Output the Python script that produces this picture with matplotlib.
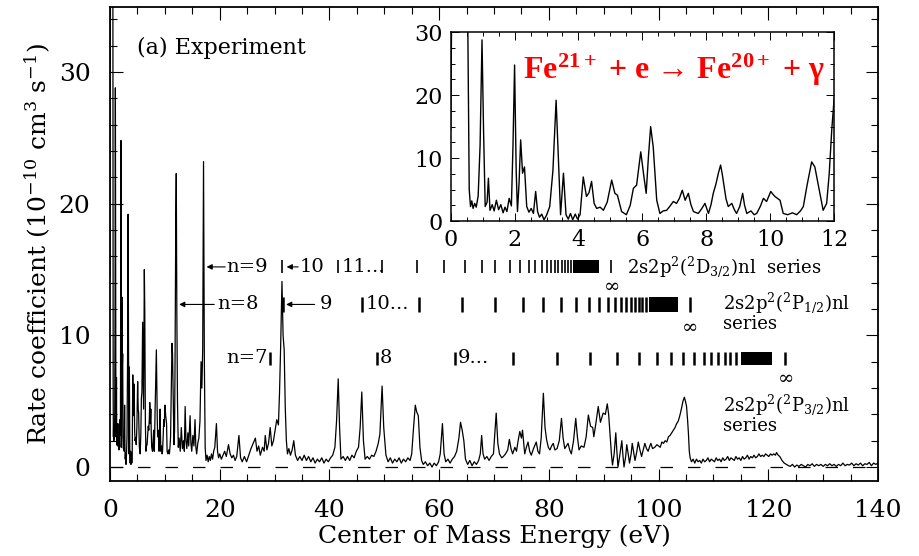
import matplotlib
matplotlib.use("Agg")
import matplotlib.pyplot as plt
import numpy as np
from matplotlib.ticker import MultipleLocator

# --------------------------------------------------------------------------- #
# Data: (energy eV, rate 1e-10 cm^3/s)
# --------------------------------------------------------------------------- #

spectrum_low = [
    (0.0, 14.5), (0.04, 40), (0.52, 40), (0.58, 5.0), (0.62, 2.3), (0.66, 3.2),
    (0.70, 2.0), (0.75, 2.8), (0.80, 2.2), (0.86, 4.0), (0.92, 12), (0.98, 28.8),
    (1.03, 14), (1.08, 2.3), (1.14, 3.0), (1.18, 6.8), (1.23, 1.7), (1.30, 2.6),
    (1.36, 1.6), (1.43, 3.3), (1.50, 1.8), (1.57, 2.6), (1.64, 1.3), (1.70, 2.2),
    (1.76, 1.5), (1.83, 3.6), (1.90, 2.4), (1.95, 12), (2.00, 24.8), (2.05, 8.0),
    (2.09, 1.5), (2.14, 6.0), (2.19, 12.9), (2.25, 7.6), (2.31, 8.6), (2.38, 2.3),
    (2.45, 1.4), (2.52, 2.0), (2.59, 1.2), (2.66, 4.7), (2.72, 1.5), (2.78, 0.6),
    (2.85, 1.1), (2.92, 0.2), (3.00, 0.9), (3.10, 2.3), (3.20, 8.0), (3.30, 19.2),
    (3.37, 10), (3.44, 1.0), (3.53, 7.6), (3.61, 1.0), (3.68, 0.3), (3.75, 1.2),
    (3.82, 0.2), (3.90, 1.1), (3.97, 0.3), (4.05, 1.0), (4.15, 7.0), (4.25, 3.9),
    (4.33, 4.5), (4.41, 6.3), (4.49, 2.8), (4.57, 2.0), (4.68, 2.2), (4.78, 1.7),
    (4.90, 3.0), (5.04, 6.5), (5.14, 4.4), (5.22, 4.1), (5.35, 1.5), (5.50, 1.0),
    (5.62, 2.5), (5.72, 5.2), (5.82, 5.7), (5.95, 11.0), (6.05, 7.0), (6.12, 4.4),
    (6.19, 10.2), (6.26, 15.0), (6.34, 11.8), (6.45, 3.3), (6.55, 1.2), (6.65, 1.6),
    (6.76, 1.7), (6.87, 2.4), (6.97, 3.1), (7.07, 2.8), (7.16, 3.6), (7.25, 4.9),
    (7.34, 3.3), (7.44, 4.4), (7.52, 2.6), (7.60, 1.5), (7.75, 1.2), (7.85, 1.9),
    (7.96, 2.8), (8.07, 1.2), (8.15, 2.6), (8.22, 4.4), (8.30, 5.8), (8.38, 7.6),
    (8.45, 8.9), (8.50, 7.5), (8.56, 5.5), (8.62, 3.5), (8.69, 2.3), (8.80, 2.8),
    (8.88, 1.8), (8.95, 1.2), (9.05, 2.3), (9.14, 4.4), (9.20, 2.5), (9.27, 1.2),
    (9.40, 1.6), (9.50, 1.0), (9.58, 1.2), (9.70, 2.4), (9.79, 3.6), (9.89, 3.1),
    (10.02, 4.7), (10.08, 4.3), (10.15, 3.9), (10.23, 3.6), (10.31, 3.3), (10.41, 1.2),
    (10.55, 1.0), (10.70, 1.3), (10.83, 1.0), (10.95, 1.6), (11.04, 2.3), (11.15, 5.5),
    (11.30, 9.4), (11.40, 8.6), (11.48, 6.5), (11.56, 4.4), (11.66, 1.7), (11.77, 2.8),
    (11.85, 7.5), (11.93, 14.5), (12.00, 19.2), (12.08, 22.3), (12.18, 12), (12.30, 5.0),
    (12.45, 1.5),
]

spectrum_high = [
    (12.6, 2.2), (12.8, 1.2), (13.0, 3.0), (13.2, 1.4), (13.4, 2.0), (13.55, 1.2),
    (13.7, 4.6), (13.85, 2.0), (14.0, 1.4), (14.2, 2.6), (14.35, 1.6), (14.6, 3.9),
    (14.75, 1.8), (14.9, 1.2), (15.1, 2.4), (15.3, 1.6), (15.5, 3.6), (15.65, 1.5),
    (15.8, 1.0), (16.0, 1.8), (16.2, 2.2), (16.4, 3.5), (16.6, 8.0), (16.75, 6.0),
    (16.9, 9.0), (17.05, 23.2), (17.2, 8.0), (17.35, 1.5), (17.5, 0.5), (17.7, 0.9),
    (17.9, 0.4), (18.1, 0.8), (18.3, 0.5), (18.5, 1.0), (18.7, 0.6), (18.9, 1.2),
    (19.1, 1.5), (19.4, 3.3), (19.6, 1.2), (19.8, 0.7), (20.0, 1.0), (20.3, 0.6),
    (20.6, 0.9), (20.9, 1.2), (21.2, 0.8), (21.6, 1.7), (21.9, 1.0), (22.2, 0.7),
    (22.5, 0.9), (22.8, 0.5), (23.1, 0.8), (23.5, 2.4), (23.8, 0.7), (24.1, 0.4),
    (24.5, 0.8), (24.9, 0.4), (25.3, 0.9), (25.7, 1.4), (26.1, 1.8), (26.5, 2.2),
    (26.8, 1.2), (27.1, 1.6), (27.4, 0.9), (27.8, 1.5), (28.1, 1.2), (28.3, 2.4),
    (28.6, 1.3), (28.9, 1.8), (29.2, 3.0), (29.5, 1.6), (29.8, 2.0), (30.1, 2.8),
    (30.4, 3.6), (30.7, 3.2), (30.9, 5.6), (31.1, 9.0), (31.35, 14.1), (31.55, 10.0),
    (31.75, 8.9), (31.95, 4.5), (32.15, 2.0), (32.35, 1.0), (32.6, 1.4), (32.9, 0.9),
    (33.2, 1.3), (33.5, 2.0), (33.8, 0.9), (34.2, 0.5), (34.6, 0.8), (35.0, 0.5),
    (35.4, 0.9), (35.8, 0.5), (36.2, 0.8), (36.6, 0.4), (37.0, 0.7), (37.4, 0.3),
    (37.8, 0.6), (38.2, 0.4), (38.6, 0.7), (39.0, 0.3), (39.4, 0.6), (39.8, 0.4),
    (40.2, 0.7), (40.6, 0.9), (41.0, 1.5), (41.3, 3.5), (41.6, 6.7), (41.85, 3.0),
    (42.1, 0.6), (42.5, 0.8), (42.9, 0.5), (43.3, 0.8), (43.7, 0.5), (44.1, 0.9),
    (44.5, 0.7), (44.9, 1.2), (45.3, 1.5), (45.6, 3.0), (45.9, 5.7), (46.2, 2.0),
    (46.5, 0.6), (46.9, 0.8), (47.3, 0.6), (47.7, 0.9), (48.1, 0.8), (48.5, 1.2),
    (48.9, 1.8), (49.2, 2.5), (49.6, 6.15), (49.9, 3.0), (50.3, 0.9), (50.7, 0.4),
    (51.1, 0.7), (51.5, 0.3), (51.9, 0.6), (52.3, 0.4), (52.7, 0.7), (53.1, 0.3),
    (53.5, 0.6), (53.9, 0.4), (54.3, 0.7), (54.7, 0.5), (55.0, 1.0), (55.3, 2.8),
    (55.65, 4.7), (55.9, 4.2), (56.2, 3.9), (56.5, 1.5), (56.8, 0.5), (57.1, 0.2),
    (57.5, 0.4), (57.9, 0.1), (58.3, 0.3), (58.7, 0.0), (59.1, 0.3), (59.5, 0.1),
    (59.9, 0.4), (60.2, 1.0), (60.6, 3.3), (60.9, 1.0), (61.2, 0.4), (61.6, 0.6),
    (62.0, 0.3), (62.4, 0.6), (62.8, 0.8), (63.2, 1.2), (63.6, 2.2), (63.9, 3.4),
    (64.2, 2.8), (64.5, 2.0), (64.8, 0.6), (65.2, 0.2), (65.6, 0.5), (66.0, 0.1),
    (66.4, 0.4), (66.8, 0.2), (67.2, 0.5), (67.5, 1.0), (67.75, 2.4), (68.0, 1.0),
    (68.3, 0.6), (68.7, 0.8), (69.1, 0.5), (69.5, 0.8), (69.9, 1.0), (70.15, 2.5),
    (70.4, 4.1), (70.7, 1.8), (71.0, 1.0), (71.4, 0.7), (71.7, 0.8), (72.1, 1.0),
    (72.5, 1.3), (72.8, 2.1), (73.1, 1.4), (73.4, 1.0), (73.8, 1.5), (74.1, 1.2),
    (74.4, 2.0), (74.7, 2.7), (75.0, 2.2), (75.2, 2.8), (75.6, 1.0), (75.9, 1.5),
    (76.2, 1.9), (76.5, 1.2), (76.8, 0.9), (77.2, 1.4), (77.7, 1.9), (78.0, 1.2),
    (78.3, 1.0), (78.6, 2.2), (79.0, 5.6), (79.3, 3.0), (79.6, 2.05), (79.9, 1.5),
    (80.2, 1.3), (80.5, 1.6), (80.8, 1.8), (81.1, 1.3), (81.5, 1.4), (81.9, 2.0),
    (82.3, 3.7), (82.6, 2.2), (82.9, 1.4), (83.2, 1.6), (83.5, 1.8), (83.8, 1.3),
    (84.1, 1.0), (84.5, 2.0), (84.9, 3.7), (85.2, 2.3), (85.5, 1.3), (85.9, 1.6),
    (86.4, 1.5), (86.8, 2.3), (87.2, 3.95), (87.6, 3.1), (88.0, 3.0), (88.2, 2.3),
    (88.6, 3.4), (89.0, 4.6), (89.4, 3.4), (89.9, 4.1), (90.3, 4.0), (90.65, 4.8),
    (90.9, 4.0), (91.1, 2.8), (91.4, 1.0), (91.6, 0.15), (91.9, 1.0), (92.2, 2.6),
    (92.4, 1.2), (92.6, 0.0), (92.9, 0.8), (93.3, 2.0), (93.5, 0.9), (93.7, 0.0),
    (94.0, 0.8), (94.2, 1.7), (94.5, 0.9), (94.7, 0.3), (95.0, 1.0), (95.2, 1.8),
    (95.5, 1.0), (95.7, 0.5), (96.0, 1.1), (96.3, 1.9), (96.6, 1.3), (96.9, 0.8),
    (97.2, 1.3), (97.5, 1.8), (97.8, 1.4), (98.1, 1.2), (98.4, 1.6), (98.6, 1.8),
    (98.9, 1.4), (99.3, 1.5), (99.7, 1.7), (100.0, 1.6), (100.3, 1.5), (100.6, 1.9),
    (100.9, 1.8), (101.2, 2.0), (101.5, 1.9), (101.8, 2.3), (102.1, 2.4), (102.4, 2.6),
    (102.7, 2.8), (103.0, 3.0), (103.3, 3.3), (103.6, 3.5), (103.9, 3.95), (104.2, 4.5),
    (104.45, 5.0), (104.7, 5.3), (104.9, 5.0), (105.1, 4.6), (105.3, 3.5), (105.45, 2.5),
    (105.6, 1.2), (105.75, 0.7), (106.0, 0.4), (106.3, 0.6), (106.6, 0.3), (106.9, 0.6),
    (107.2, 0.4), (107.5, 0.5), (107.8, 0.3), (108.1, 0.6), (108.4, 0.4), (108.7, 0.5),
    (109.0, 0.7), (109.3, 0.4), (109.6, 0.6), (109.9, 0.5), (110.2, 0.4), (110.5, 0.7),
    (110.8, 0.5), (111.1, 0.6), (111.4, 0.4), (111.7, 0.7), (112.0, 0.5), (112.3, 0.6),
    (112.6, 0.8), (112.9, 0.5), (113.2, 0.7), (113.5, 0.6), (113.8, 0.5), (114.1, 0.8),
    (114.4, 0.6), (114.7, 0.7), (115.0, 0.5), (115.3, 0.8), (115.6, 0.6), (115.9, 0.7),
    (116.2, 0.9), (116.5, 0.6), (116.8, 0.8), (117.1, 0.7), (117.4, 0.9), (117.7, 0.7),
    (118.0, 0.8), (118.3, 1.0), (118.6, 0.8), (118.9, 0.9), (119.2, 0.8), (119.5, 1.0),
    (119.8, 0.9), (120.1, 0.8), (120.4, 1.0), (120.7, 0.9), (121.0, 1.0), (121.3, 0.9),
    (121.5, 1.1), (121.8, 0.9), (122.1, 0.8), (122.5, 0.5), (122.9, 0.3), (123.3, 0.2),
    (123.7, 0.1), (124.0, 0.05), (124.4, 0.2), (124.8, 0.0), (125.2, 0.15), (125.6, 0.05),
    (126.0, 0.2), (126.4, 0.1), (126.8, 0.0), (127.2, 0.2), (127.6, 0.1), (128.0, 0.25),
    (128.4, 0.05), (128.8, 0.2), (129.2, 0.1), (129.6, 0.2), (130.0, 0.05), (130.4, 0.2),
    (130.8, 0.1), (131.2, 0.25), (131.6, 0.1), (132.0, 0.2), (132.4, 0.05), (132.8, 0.2),
    (133.2, 0.1), (133.6, 0.3), (134.0, 0.1), (134.4, 0.2), (134.8, 0.15), (135.2, 0.3),
    (135.6, 0.1), (136.0, 0.25), (136.4, 0.15), (136.8, 0.3), (137.2, 0.1), (137.6, 0.25),
    (138.0, 0.2), (138.4, 0.35), (138.8, 0.1), (139.2, 0.3), (139.6, 0.2), (140.0, 0.3),
]

# Rydberg series resonance markers (eV)
d32_bars = [31.3, 41.6, 49.5, 55.9, 60.8, 64.7, 67.8, 70.2, 72.9, 74.7, 76.3,
            77.5, 78.7, 79.6, 80.3, 81.1, 81.7, 82.4, 83.0, 83.5, 84.0]
d32_block = (84.4, 89.2)
d32_limit = 91.3

p12_bars = [31.6, 45.9, 56.4, 64.1, 70.2, 75.3, 79.0, 82.3, 84.9, 87.4, 89.2,
            90.8, 92.05, 93.1, 94.1, 94.9, 95.7, 96.4, 97.0, 97.7]
p12_block = (98.3, 103.6)
p12_limit = 105.8

p32_bars = [29.2, 48.7, 62.9, 73.5, 81.4, 87.5, 92.5, 96.4, 99.65, 102.2,
            104.5, 106.5, 108.2, 109.5, 110.9, 112.1, 113.1, 114.1]
p32_block = (115.1, 120.7)
p32_limit = 123.1

# --------------------------------------------------------------------------- #
# Style
# --------------------------------------------------------------------------- #

plt.rcParams["font.family"] = ["DejaVu Serif"]
plt.rcParams["mathtext.fontset"] = "custom"
plt.rcParams["mathtext.rm"] = "Liberation Serif:bold"
plt.rcParams["mathtext.it"] = "Liberation Serif:bold"
plt.rcParams["mathtext.bf"] = "Liberation Serif:bold"

energy, rate = np.array(spectrum_low + spectrum_high).T

fig = plt.figure(figsize=(9.2, 5.56), dpi=100)
ax = fig.add_axes([110 / 920, 1 - 481 / 556, 768 / 920, 474 / 556])

ax.plot(energy, rate, color="k", lw=0.9)
ax.axhline(0, color="k", lw=0.9, ls=(0, (10, 12)))

ax.set_xlim(0, 140)
ax.set_ylim(-1.06, 34.94)
ax.xaxis.set_major_locator(MultipleLocator(20))
ax.xaxis.set_minor_locator(MultipleLocator(5))
ax.yaxis.set_major_locator(MultipleLocator(10))
ax.yaxis.set_minor_locator(MultipleLocator(2))
ax.tick_params(which="both", direction="in", top=True, right=True, width=0.8)
ax.tick_params(which="major", length=9, labelsize=18)
ax.tick_params(axis="x", which="major", pad=13)
ax.tick_params(axis="y", which="major", pad=14)
ax.tick_params(which="minor", length=5)
for s in ax.spines.values():
    s.set_linewidth(1.3)

ax.set_xlabel("Center of Mass Energy (eV)", fontsize=18, labelpad=2)
ax.set_ylabel(r"Rate coefficient (10$^{-10}$ cm$^3$ s$^{-1}$)", fontsize=18,
              labelpad=4, math_fontfamily="dejavuserif")

ax.text(4.9, 31.8, "(a) Experiment", fontsize=16, va="center", ha="left")

# series markers
mf = "dejavuserif"
lab_fs = 14
lab2_fs = 13


def draw_series(bars, block, limit, y0, y1, lw):
    ax.vlines(bars, y0, y1, color="k", lw=lw)
    ax.fill_between(block, y0, y1, color="k", lw=0)
    ax.vlines([limit], y0, y1, color="k", lw=lw)


def arrow(head, tail, y):
    ax.annotate("", xy=(head, y), xytext=(tail, y),
                arrowprops=dict(arrowstyle="-|>", color="k", lw=0.8,
                                mutation_scale=8, shrinkA=0, shrinkB=0))


# 2D3/2 row
y_a, y_b = 14.7, 15.7
ym = 15.2
draw_series(d32_bars, d32_block, d32_limit, y_a, y_b, 1.2)
arrow(17.6, 21.0, ym)
ax.text(21.2, ym, "n=9", fontsize=lab_fs, va="center", ha="left")
arrow(32.2, 34.3, ym)
ax.text(34.6, ym, "10", fontsize=lab_fs, va="center", ha="left")
ax.text(42.2, ym, "11...", fontsize=lab_fs, va="center", ha="left")
ax.text(d32_limit, 13.8, r"$\infty$", fontsize=lab_fs, va="center",
        ha="center", math_fontfamily=mf)
ax.text(94.3, ym, r"2s2p$^2$($^2$D$_{3/2}$)nl  series", fontsize=lab2_fs,
        va="center", ha="left", math_fontfamily=mf)

# 2P1/2 row
y_a, y_b = 11.8, 12.9
ym = 12.35
draw_series(p12_bars, p12_block, p12_limit, y_a, y_b, 1.8)
arrow(12.6, 19.0, ym)
ax.text(19.5, ym, "n=8", fontsize=lab_fs, va="center", ha="left")
arrow(32.1, 37.3, ym)
ax.text(38.2, ym, "9", fontsize=lab_fs, va="center", ha="left")
ax.text(46.6, ym, "10...", fontsize=lab_fs, va="center", ha="left")
ax.text(p12_limit - 0.2, 10.7, r"$\infty$", fontsize=lab_fs, va="center",
        ha="center", math_fontfamily=mf)
ax.text(111.8, 12.05, r"2s2p$^2$($^2$P$_{1/2}$)nl", fontsize=lab2_fs,
        va="baseline", ha="left", math_fontfamily=mf)
ax.text(111.8, 10.5, "series", fontsize=lab2_fs, va="baseline", ha="left")

# 2P3/2 row
y_a, y_b = 7.75, 8.7
ym = 8.25
draw_series(p32_bars, p32_block, p32_limit, y_a, y_b, 1.8)
ax.text(28.7, ym, "n=7", fontsize=lab_fs, va="center", ha="right")
ax.text(49.1, ym, "8", fontsize=lab_fs, va="center", ha="left")
ax.text(63.4, ym, "9...", fontsize=lab_fs, va="center", ha="left")
ax.text(p32_limit, 6.86, r"$\infty$", fontsize=lab_fs, va="center",
        ha="center", math_fontfamily=mf)
ax.text(111.8, 4.3, r"2s2p$^2$($^2$P$_{3/2}$)nl", fontsize=lab2_fs,
        va="baseline", ha="left", math_fontfamily=mf)
ax.text(111.8, 2.75, "series", fontsize=lab2_fs, va="baseline", ha="left")

# --------------------------------------------------------------------------- #
# Inset: low-energy zoom
# --------------------------------------------------------------------------- #
ins = fig.add_axes([450.7 / 920, 1 - 221 / 556, 383.3 / 920, 188.7 / 556])
ins.plot(energy, rate, color="k", lw=1.0)
ins.set_xlim(0, 12)
ins.set_ylim(0, 30)
ins.xaxis.set_major_locator(MultipleLocator(2))
ins.xaxis.set_minor_locator(MultipleLocator(0.5))
ins.yaxis.set_major_locator(MultipleLocator(10))
ins.yaxis.set_minor_locator(MultipleLocator(2.5))
ins.tick_params(which="both", direction="in", top=True, right=True, width=0.7)
ins.tick_params(which="major", length=6, labelsize=16, pad=6)
ins.tick_params(which="minor", length=3)
for s in ins.spines.values():
    s.set_linewidth(1.1)

ins.text(2.26, 24.0, "Fe$^{21+}$ + e \u2192 Fe$^{20+}$ + \u03b3",
         color="#ff0000", fontsize=23, fontweight="bold",
         family=["Liberation Serif", "DejaVu Serif"],
         va="center", ha="left", math_fontfamily="custom")

fig.savefig("out.png", dpi=100)
